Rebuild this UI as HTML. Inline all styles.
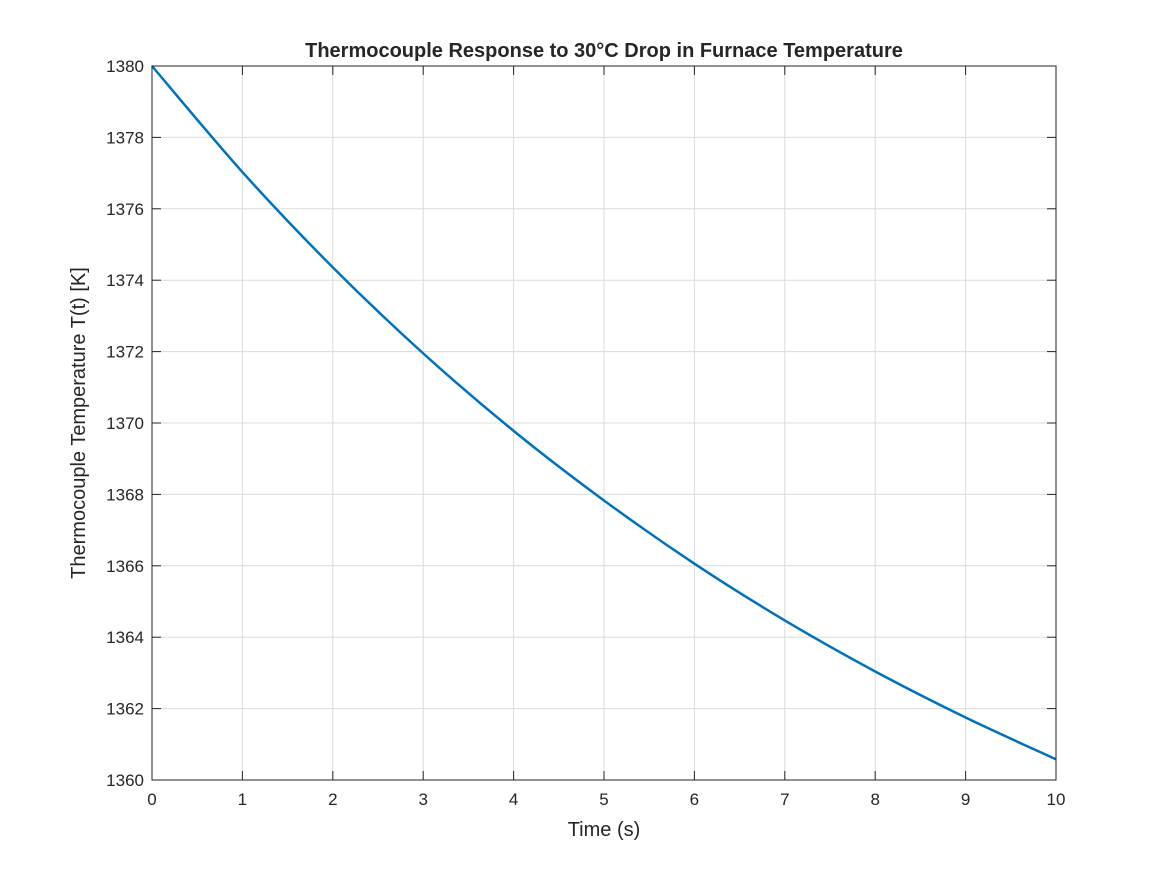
<!DOCTYPE html>
<html><head><meta charset="utf-8"><style>
body{margin:0;background:#fff;}
svg text{font-family:"Liberation Sans",Arial,sans-serif;fill:#262626;}
</style></head><body>
<svg id="chart" width="1167" height="875" xmlns="http://www.w3.org/2000/svg">
<rect width="1167" height="875" fill="#fff"/>
<g id="grid"></g>
<g id="ticks"></g>
<path id="curve" fill="none" stroke="#0072BD" stroke-width="2.5"/>
<rect x="152" y="66" width="904" height="714" fill="none" stroke="#262626" stroke-width="1"/>
<text x="604" y="57" text-anchor="middle" font-size="20" font-weight="bold" fill="#000">Thermocouple Response to 30°C Drop in Furnace Temperature</text>
<text x="604" y="836" text-anchor="middle" font-size="20">Time (s)</text>
<text x="85" y="423" text-anchor="middle" font-size="20" transform="rotate(-90 85 423)">Thermocouple Temperature T(t) [K]</text>
</svg>
<script>
const times=[0,1,2,3,4,5,6,7,8,9,10];
const temps=[1380,1377.03,1374.36,1371.95,1369.78,1367.83,1366.06,1364.47,1363.04,1361.75,1360.58];
const xTicks=[0,1,2,3,4,5,6,7,8,9,10];
const yTicks=[1360,1362,1364,1366,1368,1370,1372,1374,1376,1378,1380];
const L=152,R=1056,T=66,B=780;
const xs=v=>L+(v-0)/10*(R-L);
const ys=v=>B-(v-1360)/20*(B-T);
const NS="http://www.w3.org/2000/svg";
const grid=document.getElementById('grid'),ticks=document.getElementById('ticks');
function mk(tag,at,parent){const e=document.createElementNS(NS,tag);for(const k in at)e.setAttribute(k,at[k]);parent.appendChild(e);return e;}
xTicks.forEach(v=>{const x=xs(v);
 const g=mk('line',{x1:x,x2:x,y1:T,y2:B,stroke:'#dcdcdc','stroke-width':1},grid);
 
 
 mk('line',{x1:x,x2:x,y1:B,y2:B-9,stroke:'#262626'},ticks);
 mk('line',{x1:x,x2:x,y1:T,y2:T+9,stroke:'#262626'},ticks);
 const t=mk('text',{x:x,y:B+25,'text-anchor':'middle','font-size':17},ticks);t.textContent=v;
 
 
});
yTicks.forEach(v=>{const y=ys(v);
 const g=mk('line',{x1:L,x2:R,y1:y,y2:y,stroke:'#dcdcdc','stroke-width':1},grid);
 
 
 mk('line',{x1:L,x2:L+9,y1:y,y2:y,stroke:'#262626'},ticks);
 mk('line',{x1:R,x2:R-9,y1:y,y2:y,stroke:'#262626'},ticks);
 const t=mk('text',{x:L-8,y:y+6,'text-anchor':'end','font-size':17},ticks);t.textContent=v;
 
 
});
const P=times.map((t,i)=>[xs(t),ys(temps[i])]);
let d='M'+P[0][0]+','+P[0][1];
for(let i=0;i<P.length-1;i++){
 const p0=P[Math.max(0,i-1)],p1=P[i],p2=P[i+1],p3=P[Math.min(P.length-1,i+2)];
 const c1=[p1[0]+(p2[0]-p0[0])/6,p1[1]+(p2[1]-p0[1])/6];
 const c2=[p2[0]-(p3[0]-p1[0])/6,p2[1]-(p3[1]-p1[1])/6];
 d+=` C${c1[0]},${c1[1]} ${c2[0]},${c2[1]} ${p2[0]},${p2[1]}`;
}
document.getElementById('curve').setAttribute('d',d);
</script>
</body></html>
